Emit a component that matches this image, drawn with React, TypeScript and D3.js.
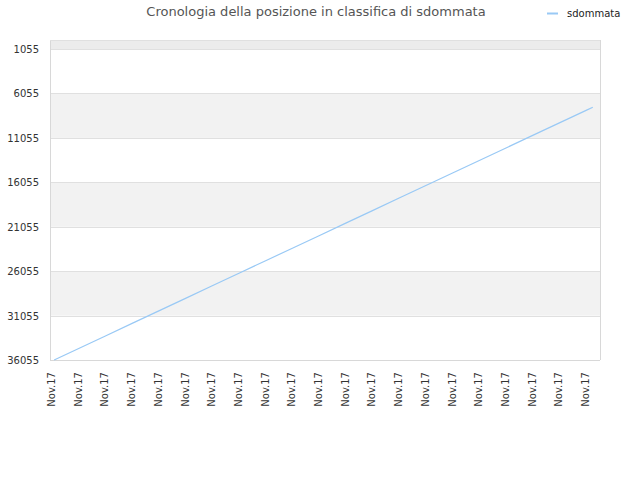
import { useEffect, useRef } from 'react';
import * as d3 from 'd3';

const title = 'Cronologia della posizione in classifica di sdommata';
const seriesName = 'sdommata';

// x positions in "tick units" (one Nov.17 label per unit)
const tickLabels: string[] = Array.from({ length: 21 }, () => 'Nov.17');
const days = [0.08, 1, 2, 3, 4, 5, 6, 7, 8, 9, 10, 11, 12, 13, 14, 15, 16, 17, 18, 19, 20, 20.25];
const ranks = [
  36055, 34757, 33347, 31936, 30526, 29115, 27705, 26294, 24884, 23473, 22063, 20652, 19242,
  17831, 16421, 15010, 13600, 12189, 10779, 9368, 7958, 7605,
];
const yTicks = [1055, 6055, 11055, 16055, 21055, 26055, 31055, 36055];

export default function App() {
  const svgRef = useRef<SVGSVGElement>(null);

  useEffect(() => {
    if (!svgRef.current) return;
    const width = 640;
    const height = 480;
    const margin = { top: 40, right: 40, bottom: 120, left: 50 };
    const innerWidth = width - margin.left - margin.right;
    const innerHeight = height - margin.top - margin.bottom;

    const svg = d3.select(svgRef.current);
    svg.selectAll('*').remove();
    svg.attr('width', width).attr('height', height);

    const font = 'DejaVu Sans, sans-serif';

    const x = d3.scaleLinear().domain([-0.075, 20.52]).range([0, innerWidth]);
    const y = d3.scaleLinear().domain([42, 36055]).range([0, innerHeight]);

    const g = svg.append('g').attr('transform', `translate(${margin.left},${margin.top})`);

    // Bands: top strip plus alternating stripes
    g.append('rect')
      .attr('x', 0)
      .attr('y', 0)
      .attr('width', innerWidth)
      .attr('height', y(yTicks[0]))
      .attr('fill', '#ececec');
    for (let i = 0; i < yTicks.length - 1; i++) {
      if (i % 2 === 1) {
        g.append('rect')
          .attr('x', 0)
          .attr('y', y(yTicks[i]))
          .attr('width', innerWidth)
          .attr('height', y(yTicks[i + 1]) - y(yTicks[i]))
          .attr('fill', '#f2f2f2');
      }
    }

    // Grid lines
    yTicks.forEach((t) => {
      g.append('line')
        .attr('x1', 0)
        .attr('x2', innerWidth)
        .attr('y1', Math.round(y(t)) + 0.5)
        .attr('y2', Math.round(y(t)) + 0.5)
        .attr('stroke', '#e0e0e0');
    });

    // Frame
    g.append('line').attr('x1', 0.5).attr('x2', 0.5).attr('y1', 0).attr('y2', innerHeight).attr('stroke', '#d8d8d8');
    g.append('line').attr('x1', innerWidth + 0.5).attr('x2', innerWidth + 0.5).attr('y1', 0).attr('y2', innerHeight).attr('stroke', '#d8d8d8');
    g.append('line').attr('x1', 0).attr('x2', innerWidth).attr('y1', 0.5).attr('y2', 0.5).attr('stroke', '#e0e0e0');
    g.append('line').attr('x1', 0).attr('x2', innerWidth).attr('y1', innerHeight + 0.5).attr('y2', innerHeight + 0.5).attr('stroke', '#d8d8d8');

    // Line
    const line = d3
      .line<number>()
      .x((_, i) => x(days[i]))
      .y((d) => y(d));
    g.append('path')
      .datum(ranks)
      .attr('d', line)
      .attr('fill', 'none')
      .attr('stroke', '#99c9f5')
      .attr('stroke-width', 1.2);

    // Y axis labels
    yTicks.forEach((t) => {
      g.append('text')
        .attr('x', -11)
        .attr('y', y(t) + 4)
        .attr('text-anchor', 'end')
        .attr('font-family', font)
        .attr('font-size', 10)
        .attr('fill', '#333')
        .text(t);
    });

    // X axis labels
    tickLabels.forEach((lab, i) => {
      const tx = x(i) + 3;
      const ty = innerHeight + 12;
      g.append('text')
        .attr('transform', `translate(${tx},${ty}) rotate(-90)`)
        .attr('text-anchor', 'end')
        .attr('font-family', font)
        .attr('font-size', 10)
        .attr('fill', '#333')
        .text(lab);
    });

    // Title
    svg
      .append('text')
      .attr('x', 316)
      .attr('y', 16)
      .attr('text-anchor', 'middle')
      .attr('font-family', font)
      .attr('font-size', 13)
      .attr('fill', '#555')
      .text(title);

    // Legend
    svg.append('line').attr('x1', 547).attr('x2', 558).attr('y1', 13.5).attr('y2', 13.5).attr('stroke', '#99c9f5').attr('stroke-width', 2);
    svg
      .append('text')
      .attr('x', 567)
      .attr('y', 17)
      .attr('font-family', font)
      .attr('font-size', 10)
      .attr('fill', '#222')
      .text(seriesName);
  }, []);

  return (
    <div style={{ position: 'fixed', left: 0, top: 0, width: 640, height: 480, background: '#fff' }}>
      <svg ref={svgRef} style={{ display: 'block' }} />
    </div>
  );
}
